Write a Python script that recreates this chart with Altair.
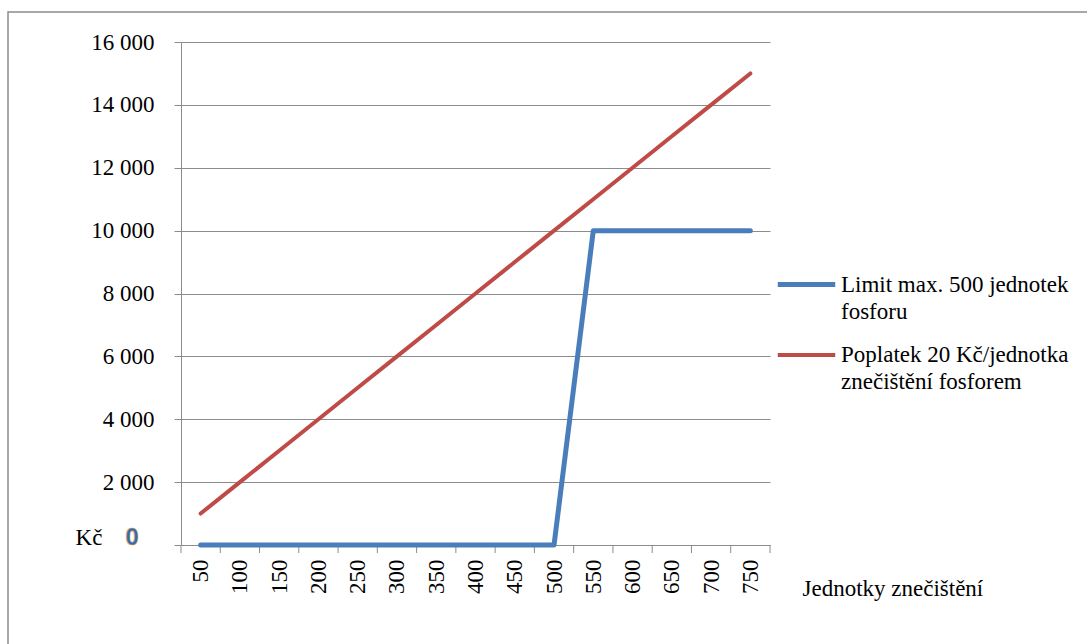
import altair as alt
import pandas as pd

# ---- data ----
units = [50, 100, 150, 200, 250, 300, 350, 400, 450, 500, 550, 600, 650, 700, 750]
limit_costs = [0, 0, 0, 0, 0, 0, 0, 0, 0, 0, 10000, 10000, 10000, 10000, 10000]
fee_costs = [1000, 2000, 3000, 4000, 5000, 6000, 7000, 8000, 9000, 10000,
             11000, 12000, 13000, 14000, 15000]
series_names = ["Limit max. 500 jednotek|fosforu",
                "Poplatek 20 Kč/jednotka|znečištění fosforem"]
series_colors = ["#4A7EBB", "#BE4B48"]
y_ticks = [0, 2000, 4000, 6000, 8000, 10000, 12000, 14000, 16000]

rows = []
for u, v in zip(units, limit_costs):
    rows.append({"units": u, "value": v, "series": series_names[0]})
for u, v in zip(units, fee_costs):
    rows.append({"units": u, "value": v, "series": series_names[1]})
df = pd.DataFrame(rows)

step = units[1] - units[0]
bounds = [u - step / 2 for u in units] + [units[-1] + step / 2]
bdf = pd.DataFrame({"b": bounds})

W, H = 589, 503
FONT = "Liberation Serif"
FS = 23
GRAY = "#8C8C8C"

xscale = alt.Scale(domain=[bounds[0], bounds[-1]], nice=False, zero=False)
yscale = alt.Scale(domain=[0, 16000], nice=False)

lines = alt.Chart(df).mark_line(strokeCap="round", strokeJoin="round").encode(
    x=alt.X("units:Q", scale=xscale,
            axis=alt.Axis(values=units, labelAngle=270, tickSize=0,
                          labelAlign="right", labelBaseline="middle",
                          labelPadding=14, grid=False, domainColor=GRAY,
                          labelFont=FONT, labelFontSize=FS, labelColor="black",
                          title="Jednotky znečištění", titleFont=FONT,
                          titleFontSize=FS, titleFontWeight="normal",
                          titleColor="black", titleAngle=0, titleAlign="left",
                          titleBaseline="middle", titleX=621, titleY=43)),
    y=alt.Y("value:Q", scale=yscale,
            axis=alt.Axis(values=y_ticks, tickSize=7, tickColor=GRAY,
                          domainColor=GRAY, grid=True, gridColor=GRAY,
                          gridOpacity=1, labelPadding=20,
                          labelExpr="datum.value == 0 ? '' : replace(format(datum.value, ','), ',', ' ')",
                          labelFont=FONT, labelFontSize=FS, labelColor="black",
                          title=None)),
    color=alt.Color("series:N",
                    scale=alt.Scale(domain=series_names, range=series_colors),
                    legend=alt.Legend(title=None, orient="none", legendX=594,
                                      legendY=211, symbolType="stroke",
                                      symbolSize=3300, symbolStrokeWidth=6,
                                      labelFont=FONT, labelFontSize=FS,
                                      labelColor="black", labelLimit=500,
                                      labelOffset=3, rowPadding=-3,
                                      labelExpr="split(datum.label, '|')")),
    strokeWidth=alt.StrokeWidth("series:N",
                                scale=alt.Scale(domain=series_names, range=[5, 4]),
                                legend=None),
)

ticks = alt.Chart(bdf).mark_rule(color=GRAY, strokeWidth=1).encode(
    x=alt.X("b:Q", scale=xscale),
    y=alt.value(H), y2=alt.value(H + 8),
)

one = pd.DataFrame({"a": [0]})
frame = alt.Chart(one).mark_rect(filled=False, stroke=GRAY, strokeWidth=1.5).encode(
    x=alt.value(-173), x2=alt.value(1300), y=alt.value(-30), y2=alt.value(900)
)
kc = alt.Chart(one).mark_text(text="Kč", font=FONT, fontSize=FS, color="black",
                              align="center", baseline="middle").encode(
    x=alt.value(-92), y=alt.value(H - 7)
)
zero = alt.Chart(one).mark_text(text="0", font="Noto Sans", fontSize=23,
                                fontWeight="bold", color="#2E6DB4",
                                stroke="#E8A040", strokeWidth=0.6,
                                align="center", baseline="middle").encode(
    x=alt.value(-49), y=alt.value(H - 7)
)

chart = alt.layer(frame, ticks, lines, kc, zero).properties(
    width=W, height=H,
    autosize=alt.AutoSizeParams(type="none"),
    padding={"left": 181, "top": 42, "right": 317, "bottom": 99},
    background="white",
).configure(
    font=FONT,
    style={"guide-label": {"lineHeight": 27, "font": FONT}},
).configure_view(stroke="transparent")

chart.save("out.html", embed_options={"renderer": "svg", "actions": False})
